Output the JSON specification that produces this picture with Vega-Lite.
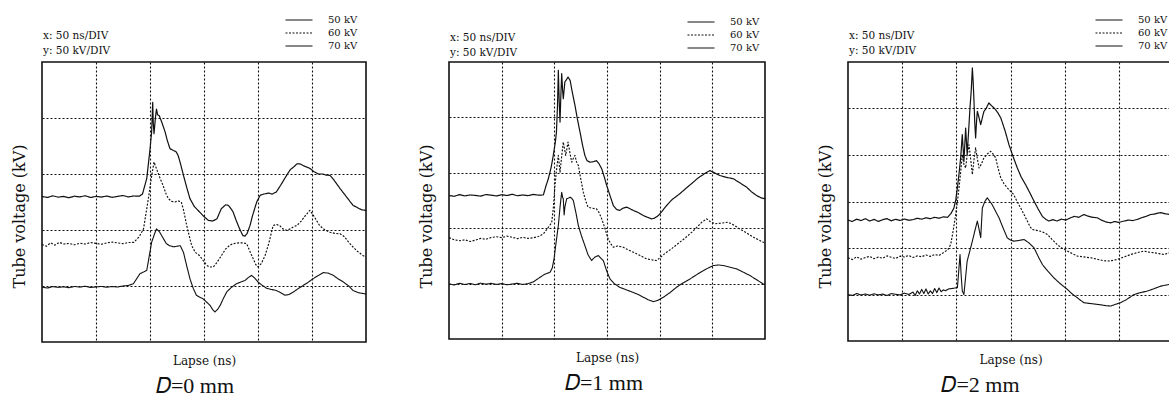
{
"$schema": "https://vega.github.io/schema/vega-lite/v6.json",
"padding": {"left": 10, "top": 12, "right": 0, "bottom": 0},
"background": "white",
"spacing": 49,
"resolve": {"scale": {"strokeDash": "independent", "strokeWidth": "independent"}},
"config": {
  "font": "DejaVu Serif",
  "view": {"stroke": "#111", "strokeWidth": 1.6},
  "axis": {"grid": true, "gridColor": "#111", "gridDash": [2, 2], "gridWidth": 1.1, "gridOpacity": 1, "domain": false, "ticks": false, "labels": false, "titleFont": "DejaVu Serif", "titleFontWeight": "normal", "titleColor": "#111"},
  "axisX": {"titleFontSize": 12, "titlePadding": 13},
  "axisY": {"titleFontSize": 16, "titlePadding": 15, "titleY": 154},
  "legend": {"orient": "none", "legendX": 1, "legendY": -49, "symbolType": "M-2.25,0H2.25", "symbolSize": 144, "symbolStrokeColor": "#111", "symbolFillColor": "transparent", "labelFont": "DejaVu Serif", "labelFontSize": 10, "labelColor": "#111", "rowPadding": 1, "labelOffset": 22, "padding": 0, "titleOrient": "left", "titleAnchor": "end", "titleBaseline": "middle", "titleFont": "DejaVu Serif", "titleFontWeight": "normal", "titleFontSize": 10.5, "titleColor": "#111", "titleLineHeight": 15, "titleLimit": 200},
  "title": {"font": "Liberation Serif", "fontWeight": "normal", "color": "#111", "orient": "bottom", "fontSize": 22, "offset": 10},
  "line": {"color": "#111"}
},
"datasets": {
"p0": [
{"s":"70 kV","t":0,"v":130},{"s":"70 kV","t":5,"v":129},{"s":"70 kV","t":10,"v":130.5},{"s":"70 kV","t":15,"v":129.3},{"s":"70 kV","t":20,"v":130},{"s":"70 kV","t":25,"v":128.8},{"s":"70 kV","t":30,"v":130.2},{"s":"70 kV","t":35,"v":129.5},{"s":"70 kV","t":40,"v":130.6},{"s":"70 kV","t":45,"v":129},{"s":"70 kV","t":50,"v":130},{"s":"70 kV","t":55,"v":129.4},{"s":"70 kV","t":60,"v":130.3},{"s":"70 kV","t":65,"v":129.2},{"s":"70 kV","t":70,"v":130},{"s":"70 kV","t":75,"v":130.8},{"s":"70 kV","t":80,"v":129.5},{"s":"70 kV","t":85,"v":130.4},{"s":"70 kV","t":90,"v":130.2},{"s":"70 kV","t":93,"v":132},{"s":"70 kV","t":97,"v":146},{"s":"70 kV","t":100,"v":172},{"s":"70 kV","t":101.5,"v":187.5},{"s":"70 kV","t":102,"v":200},{"s":"70 kV","t":102.5,"v":214},{"s":"70 kV","t":103,"v":196},{"s":"70 kV","t":103.7,"v":186},{"s":"70 kV","t":105,"v":200},{"s":"70 kV","t":106,"v":208},{"s":"70 kV","t":107,"v":203},{"s":"70 kV","t":108.6,"v":202},{"s":"70 kV","t":111,"v":196},{"s":"70 kV","t":114,"v":187.5},{"s":"70 kV","t":116,"v":180},{"s":"70 kV","t":118.5,"v":172.6},{"s":"70 kV","t":121.6,"v":171},{"s":"70 kV","t":124,"v":170},{"s":"70 kV","t":126,"v":166.7},{"s":"70 kV","t":128,"v":160},{"s":"70 kV","t":131,"v":148.8},{"s":"70 kV","t":134,"v":138},{"s":"70 kV","t":137,"v":128},{"s":"70 kV","t":141,"v":121},{"s":"70 kV","t":146,"v":116},{"s":"70 kV","t":150,"v":112},{"s":"70 kV","t":154,"v":108.6},{"s":"70 kV","t":158,"v":108},{"s":"70 kV","t":162,"v":110},{"s":"70 kV","t":166,"v":119},{"s":"70 kV","t":170,"v":122.5},{"s":"70 kV","t":172.5,"v":122},{"s":"70 kV","t":175,"v":119},{"s":"70 kV","t":177,"v":116},{"s":"70 kV","t":180,"v":108},{"s":"70 kV","t":183,"v":101},{"s":"70 kV","t":186,"v":95},{"s":"70 kV","t":188,"v":94.6},{"s":"70 kV","t":190,"v":97},{"s":"70 kV","t":192.6,"v":104},{"s":"70 kV","t":195,"v":113},{"s":"70 kV","t":198.8,"v":125},{"s":"70 kV","t":202,"v":131},{"s":"70 kV","t":205,"v":132},{"s":"70 kV","t":210,"v":133},{"s":"70 kV","t":213,"v":132},{"s":"70 kV","t":217,"v":134},{"s":"70 kV","t":221,"v":140},{"s":"70 kV","t":226.5,"v":148.8},{"s":"70 kV","t":230,"v":154},{"s":"70 kV","t":232.7,"v":156},{"s":"70 kV","t":236,"v":159},{"s":"70 kV","t":239,"v":159},{"s":"70 kV","t":243,"v":157},{"s":"70 kV","t":248,"v":155},{"s":"70 kV","t":252,"v":152},{"s":"70 kV","t":256,"v":150},{"s":"70 kV","t":260,"v":150},{"s":"70 kV","t":263,"v":149},{"s":"70 kV","t":266.7,"v":148.8},{"s":"70 kV","t":270,"v":145},{"s":"70 kV","t":273,"v":141},{"s":"70 kV","t":276,"v":137},{"s":"70 kV","t":280,"v":132},{"s":"70 kV","t":284,"v":127},{"s":"70 kV","t":288,"v":122},{"s":"70 kV","t":292,"v":120},{"s":"70 kV","t":296,"v":118},{"s":"70 kV","t":300,"v":117.5},
{"s":"60 kV","t":0,"v":87},{"s":"60 kV","t":4,"v":85.5},{"s":"60 kV","t":8,"v":88.5},{"s":"60 kV","t":12,"v":86.5},{"s":"60 kV","t":16,"v":89},{"s":"60 kV","t":20,"v":87.5},{"s":"60 kV","t":25,"v":88},{"s":"60 kV","t":30,"v":86.8},{"s":"60 kV","t":35,"v":88.2},{"s":"60 kV","t":40,"v":87.5},{"s":"60 kV","t":45,"v":88.8},{"s":"60 kV","t":50,"v":88},{"s":"60 kV","t":55,"v":87.3},{"s":"60 kV","t":60,"v":88.5},{"s":"60 kV","t":65,"v":89.2},{"s":"60 kV","t":70,"v":88.5},{"s":"60 kV","t":75,"v":87.8},{"s":"60 kV","t":80,"v":88.8},{"s":"60 kV","t":85,"v":89},{"s":"60 kV","t":90,"v":94},{"s":"60 kV","t":94,"v":101},{"s":"60 kV","t":98.5,"v":128},{"s":"60 kV","t":101,"v":145},{"s":"60 kV","t":103.7,"v":160.7},{"s":"60 kV","t":106,"v":154.8},{"s":"60 kV","t":109,"v":147},{"s":"60 kV","t":112,"v":140},{"s":"60 kV","t":115,"v":132},{"s":"60 kV","t":117,"v":128},{"s":"60 kV","t":120,"v":125.5},{"s":"60 kV","t":123,"v":125},{"s":"60 kV","t":126,"v":126},{"s":"60 kV","t":129,"v":125},{"s":"60 kV","t":131,"v":118},{"s":"60 kV","t":134,"v":104},{"s":"60 kV","t":136.5,"v":94},{"s":"60 kV","t":138.6,"v":86},{"s":"60 kV","t":142,"v":80},{"s":"60 kV","t":146,"v":77},{"s":"60 kV","t":149,"v":73},{"s":"60 kV","t":152.5,"v":68.5},{"s":"60 kV","t":155,"v":67},{"s":"60 kV","t":158.6,"v":67},{"s":"60 kV","t":162,"v":71},{"s":"60 kV","t":166,"v":77},{"s":"60 kV","t":170,"v":83},{"s":"60 kV","t":174,"v":86.5},{"s":"60 kV","t":177,"v":87.8},{"s":"60 kV","t":182,"v":88.5},{"s":"60 kV","t":186,"v":88.5},{"s":"60 kV","t":189.5,"v":87.8},{"s":"60 kV","t":192,"v":82},{"s":"60 kV","t":195.7,"v":74},{"s":"60 kV","t":198,"v":69},{"s":"60 kV","t":200,"v":67},{"s":"60 kV","t":203,"v":70},{"s":"60 kV","t":206.5,"v":77},{"s":"60 kV","t":210,"v":88},{"s":"60 kV","t":214,"v":104},{"s":"60 kV","t":217,"v":105},{"s":"60 kV","t":220,"v":104},{"s":"60 kV","t":223,"v":101},{"s":"60 kV","t":226.5,"v":99.7},{"s":"60 kV","t":230,"v":101},{"s":"60 kV","t":233,"v":103},{"s":"60 kV","t":236,"v":104},{"s":"60 kV","t":240,"v":108},{"s":"60 kV","t":244,"v":113},{"s":"60 kV","t":248,"v":117.6},{"s":"60 kV","t":252,"v":112},{"s":"60 kV","t":257,"v":104},{"s":"60 kV","t":262,"v":100},{"s":"60 kV","t":266.7,"v":98},{"s":"60 kV","t":271,"v":97},{"s":"60 kV","t":276,"v":96.7},{"s":"60 kV","t":280,"v":94},{"s":"60 kV","t":284,"v":89},{"s":"60 kV","t":288,"v":84.8},{"s":"60 kV","t":292,"v":81},{"s":"60 kV","t":297.5,"v":77},{"s":"60 kV","t":300,"v":76},
{"s":"50 kV","t":0,"v":49},{"s":"50 kV","t":5,"v":48.2},{"s":"50 kV","t":10,"v":49.5},{"s":"50 kV","t":15,"v":48.8},{"s":"50 kV","t":20,"v":49.3},{"s":"50 kV","t":25,"v":48.5},{"s":"50 kV","t":30,"v":49.6},{"s":"50 kV","t":35,"v":49},{"s":"50 kV","t":40,"v":49.8},{"s":"50 kV","t":45,"v":48.7},{"s":"50 kV","t":50,"v":49.2},{"s":"50 kV","t":55,"v":49.6},{"s":"50 kV","t":60,"v":48.9},{"s":"50 kV","t":65,"v":49.5},{"s":"50 kV","t":70,"v":49.1},{"s":"50 kV","t":75,"v":50},{"s":"50 kV","t":80,"v":50.5},{"s":"50 kV","t":84.6,"v":52},{"s":"50 kV","t":88,"v":57},{"s":"50 kV","t":90.7,"v":61},{"s":"50 kV","t":94,"v":62.5},{"s":"50 kV","t":97,"v":64},{"s":"50 kV","t":99,"v":75},{"s":"50 kV","t":101.5,"v":89},{"s":"50 kV","t":104,"v":96},{"s":"50 kV","t":106,"v":101},{"s":"50 kV","t":109,"v":98},{"s":"50 kV","t":112,"v":93},{"s":"50 kV","t":115,"v":88},{"s":"50 kV","t":118,"v":86},{"s":"50 kV","t":121.6,"v":85},{"s":"50 kV","t":125,"v":85.5},{"s":"50 kV","t":128,"v":86},{"s":"50 kV","t":131,"v":80},{"s":"50 kV","t":134,"v":68},{"s":"50 kV","t":137,"v":56.5},{"s":"50 kV","t":140,"v":48},{"s":"50 kV","t":143,"v":41.7},{"s":"50 kV","t":146,"v":40},{"s":"50 kV","t":149,"v":38.7},{"s":"50 kV","t":152,"v":36},{"s":"50 kV","t":155.6,"v":32.7},{"s":"50 kV","t":158,"v":29},{"s":"50 kV","t":160,"v":26.8},{"s":"50 kV","t":162.5,"v":29},{"s":"50 kV","t":165,"v":32.7},{"s":"50 kV","t":168,"v":39},{"s":"50 kV","t":171,"v":44.6},{"s":"50 kV","t":175,"v":48.5},{"s":"50 kV","t":180,"v":52},{"s":"50 kV","t":184,"v":53.5},{"s":"50 kV","t":188,"v":55},{"s":"50 kV","t":191,"v":57.5},{"s":"50 kV","t":194,"v":59.5},{"s":"50 kV","t":197,"v":57},{"s":"50 kV","t":200,"v":53.6},{"s":"50 kV","t":204,"v":50.5},{"s":"50 kV","t":208,"v":48},{"s":"50 kV","t":212,"v":47},{"s":"50 kV","t":217,"v":46},{"s":"50 kV","t":221,"v":44},{"s":"50 kV","t":225,"v":41.7},{"s":"50 kV","t":229,"v":42.5},{"s":"50 kV","t":232.7,"v":44.6},{"s":"50 kV","t":237,"v":47.5},{"s":"50 kV","t":242,"v":50.6},{"s":"50 kV","t":246,"v":53},{"s":"50 kV","t":251,"v":56.5},{"s":"50 kV","t":256,"v":59.5},{"s":"50 kV","t":260.5,"v":62},{"s":"50 kV","t":265,"v":61.5},{"s":"50 kV","t":269.8,"v":59.5},{"s":"50 kV","t":274,"v":56.5},{"s":"50 kV","t":279,"v":53.6},{"s":"50 kV","t":284,"v":50},{"s":"50 kV","t":288,"v":46},{"s":"50 kV","t":293,"v":44},{"s":"50 kV","t":299,"v":43},{"s":"50 kV","t":300,"v":43}
],
"p1": [
{"s":"70 kV","t":0,"v":129.5},{"s":"70 kV","t":5,"v":128.8},{"s":"70 kV","t":10,"v":130.3},{"s":"70 kV","t":15,"v":129.2},{"s":"70 kV","t":20,"v":130},{"s":"70 kV","t":25,"v":129.6},{"s":"70 kV","t":30,"v":128.9},{"s":"70 kV","t":35,"v":130.4},{"s":"70 kV","t":40,"v":129.8},{"s":"70 kV","t":45,"v":129.1},{"s":"70 kV","t":50,"v":130.2},{"s":"70 kV","t":55,"v":129.5},{"s":"70 kV","t":60,"v":130.6},{"s":"70 kV","t":65,"v":129.3},{"s":"70 kV","t":70,"v":130},{"s":"70 kV","t":75,"v":129.4},{"s":"70 kV","t":80,"v":130.5},{"s":"70 kV","t":85,"v":129.8},{"s":"70 kV","t":89.6,"v":130},{"s":"70 kV","t":92,"v":138},{"s":"70 kV","t":94.3,"v":144.6},{"s":"70 kV","t":97,"v":155},{"s":"70 kV","t":99,"v":165.7},{"s":"70 kV","t":101,"v":178},{"s":"70 kV","t":102,"v":186.7},{"s":"70 kV","t":103,"v":210},{"s":"70 kV","t":103.8,"v":242.5},{"s":"70 kV","t":104.6,"v":215},{"s":"70 kV","t":105.4,"v":195.8},{"s":"70 kV","t":106.2,"v":220},{"s":"70 kV","t":107,"v":239.5},{"s":"70 kV","t":107.8,"v":225},{"s":"70 kV","t":108.5,"v":216.9},{"s":"70 kV","t":109.3,"v":225},{"s":"70 kV","t":110,"v":232},{"s":"70 kV","t":111.5,"v":234},{"s":"70 kV","t":113,"v":236.4},{"s":"70 kV","t":115,"v":233.4},{"s":"70 kV","t":117,"v":223},{"s":"70 kV","t":119.6,"v":210.8},{"s":"70 kV","t":122,"v":198},{"s":"70 kV","t":124.4,"v":186.7},{"s":"70 kV","t":127,"v":174},{"s":"70 kV","t":129,"v":165.7},{"s":"70 kV","t":131,"v":161},{"s":"70 kV","t":133.9,"v":159.6},{"s":"70 kV","t":137,"v":160},{"s":"70 kV","t":140,"v":161},{"s":"70 kV","t":142.5,"v":158},{"s":"70 kV","t":145,"v":153.6},{"s":"70 kV","t":147.5,"v":146},{"s":"70 kV","t":149.7,"v":138.6},{"s":"70 kV","t":153,"v":129},{"s":"70 kV","t":156,"v":120.5},{"s":"70 kV","t":159,"v":117},{"s":"70 kV","t":162,"v":116},{"s":"70 kV","t":165,"v":118},{"s":"70 kV","t":168.7,"v":119},{"s":"70 kV","t":172,"v":117.5},{"s":"70 kV","t":175,"v":116},{"s":"70 kV","t":180,"v":114},{"s":"70 kV","t":184.5,"v":111.4},{"s":"70 kV","t":188,"v":110},{"s":"70 kV","t":192.4,"v":108.4},{"s":"70 kV","t":195,"v":109},{"s":"70 kV","t":198.7,"v":111.4},{"s":"70 kV","t":202,"v":115},{"s":"70 kV","t":206.6,"v":120.5},{"s":"70 kV","t":212,"v":126},{"s":"70 kV","t":219,"v":131},{"s":"70 kV","t":225,"v":136},{"s":"70 kV","t":232,"v":141.6},{"s":"70 kV","t":236,"v":145},{"s":"70 kV","t":240,"v":147.6},{"s":"70 kV","t":244,"v":150},{"s":"70 kV","t":247.8,"v":152},{"s":"70 kV","t":252,"v":150},{"s":"70 kV","t":257,"v":147.6},{"s":"70 kV","t":263,"v":146},{"s":"70 kV","t":270,"v":144.6},{"s":"70 kV","t":276,"v":141},{"s":"70 kV","t":282.6,"v":137},{"s":"70 kV","t":287,"v":133},{"s":"70 kV","t":292,"v":129.5},{"s":"70 kV","t":296,"v":127.5},{"s":"70 kV","t":300,"v":126.5},
{"s":"60 kV","t":0,"v":91.5},{"s":"60 kV","t":5,"v":89.5},{"s":"60 kV","t":10,"v":88.7},{"s":"60 kV","t":15,"v":89.5},{"s":"60 kV","t":20,"v":88},{"s":"60 kV","t":25,"v":89.2},{"s":"60 kV","t":30,"v":90.8},{"s":"60 kV","t":35,"v":90},{"s":"60 kV","t":40,"v":91.6},{"s":"60 kV","t":45,"v":92.3},{"s":"60 kV","t":50,"v":91.5},{"s":"60 kV","t":55,"v":92.8},{"s":"60 kV","t":60,"v":91.8},{"s":"60 kV","t":65,"v":90.6},{"s":"60 kV","t":70,"v":91.7},{"s":"60 kV","t":75,"v":90.8},{"s":"60 kV","t":80,"v":91.3},{"s":"60 kV","t":85,"v":92.5},{"s":"60 kV","t":89.6,"v":94.9},{"s":"60 kV","t":93,"v":99},{"s":"60 kV","t":97.5,"v":105},{"s":"60 kV","t":99,"v":118},{"s":"60 kV","t":100.6,"v":138.6},{"s":"60 kV","t":102,"v":152},{"s":"60 kV","t":103.8,"v":165.7},{"s":"60 kV","t":105.4,"v":150.6},{"s":"60 kV","t":107,"v":165},{"s":"60 kV","t":108.5,"v":177.7},{"s":"60 kV","t":110.8,"v":165.7},{"s":"60 kV","t":113,"v":177.7},{"s":"60 kV","t":114.8,"v":168},{"s":"60 kV","t":116.5,"v":159.6},{"s":"60 kV","t":118,"v":163},{"s":"60 kV","t":119.6,"v":165.7},{"s":"60 kV","t":121,"v":160},{"s":"60 kV","t":122.8,"v":156.6},{"s":"60 kV","t":125,"v":145},{"s":"60 kV","t":127.5,"v":132.5},{"s":"60 kV","t":130,"v":124},{"s":"60 kV","t":132,"v":119},{"s":"60 kV","t":136,"v":118},{"s":"60 kV","t":140,"v":117.5},{"s":"60 kV","t":142.5,"v":114},{"s":"60 kV","t":145,"v":108.4},{"s":"60 kV","t":148,"v":100},{"s":"60 kV","t":151,"v":90.4},{"s":"60 kV","t":153.5,"v":86},{"s":"60 kV","t":156,"v":82.8},{"s":"60 kV","t":160,"v":84},{"s":"60 kV","t":165.5,"v":82.8},{"s":"60 kV","t":170,"v":80.5},{"s":"60 kV","t":175,"v":78.3},{"s":"60 kV","t":181,"v":75.5},{"s":"60 kV","t":187.7,"v":72.3},{"s":"60 kV","t":192,"v":71.5},{"s":"60 kV","t":197,"v":70.8},{"s":"60 kV","t":201,"v":74},{"s":"60 kV","t":206.6,"v":78.3},{"s":"60 kV","t":212,"v":82},{"s":"60 kV","t":219,"v":87.3},{"s":"60 kV","t":224,"v":91},{"s":"60 kV","t":228.8,"v":94.9},{"s":"60 kV","t":234,"v":99.5},{"s":"60 kV","t":240,"v":105.4},{"s":"60 kV","t":244.6,"v":108.4},{"s":"60 kV","t":248,"v":106},{"s":"60 kV","t":252.5,"v":104},{"s":"60 kV","t":258,"v":104.5},{"s":"60 kV","t":265,"v":105.4},{"s":"60 kV","t":270,"v":103},{"s":"60 kV","t":276,"v":99.4},{"s":"60 kV","t":282,"v":96},{"s":"60 kV","t":289,"v":91.9},{"s":"60 kV","t":294,"v":89.5},{"s":"60 kV","t":298.4,"v":87.3},{"s":"60 kV","t":300,"v":87},
{"s":"50 kV","t":0,"v":49.7},{"s":"50 kV","t":5,"v":48.8},{"s":"50 kV","t":10,"v":50.3},{"s":"50 kV","t":15,"v":49.2},{"s":"50 kV","t":20,"v":50.1},{"s":"50 kV","t":25,"v":49},{"s":"50 kV","t":30,"v":50.4},{"s":"50 kV","t":35,"v":49.5},{"s":"50 kV","t":40,"v":50.2},{"s":"50 kV","t":45,"v":49.3},{"s":"50 kV","t":50,"v":50},{"s":"50 kV","t":55,"v":48.9},{"s":"50 kV","t":60,"v":49.6},{"s":"50 kV","t":65,"v":50.3},{"s":"50 kV","t":70,"v":49.2},{"s":"50 kV","t":75,"v":50},{"s":"50 kV","t":80,"v":51.5},{"s":"50 kV","t":86.4,"v":55.7},{"s":"50 kV","t":91,"v":58.5},{"s":"50 kV","t":95.9,"v":60.2},{"s":"50 kV","t":98,"v":64},{"s":"50 kV","t":99.7,"v":72.3},{"s":"50 kV","t":101.8,"v":88},{"s":"50 kV","t":103.8,"v":102.4},{"s":"50 kV","t":105.5,"v":120},{"s":"50 kV","t":107,"v":132.5},{"s":"50 kV","t":107.8,"v":128},{"s":"50 kV","t":108.5,"v":126.5},{"s":"50 kV","t":109.3,"v":112},{"s":"50 kV","t":110,"v":119},{"s":"50 kV","t":111.7,"v":126.5},{"s":"50 kV","t":113,"v":127},{"s":"50 kV","t":115,"v":128},{"s":"50 kV","t":116.5,"v":127},{"s":"50 kV","t":118,"v":125},{"s":"50 kV","t":120.5,"v":114},{"s":"50 kV","t":122.8,"v":102.4},{"s":"50 kV","t":125.8,"v":93},{"s":"50 kV","t":129,"v":84.3},{"s":"50 kV","t":132,"v":76},{"s":"50 kV","t":135.4,"v":70.8},{"s":"50 kV","t":138.5,"v":74},{"s":"50 kV","t":141.8,"v":75.3},{"s":"50 kV","t":144,"v":73},{"s":"50 kV","t":146.5,"v":70.8},{"s":"50 kV","t":149.5,"v":62},{"s":"50 kV","t":152.8,"v":54.2},{"s":"50 kV","t":157,"v":50},{"s":"50 kV","t":162,"v":46.7},{"s":"50 kV","t":168,"v":44.5},{"s":"50 kV","t":175,"v":42},{"s":"50 kV","t":180,"v":40},{"s":"50 kV","t":184.5,"v":37.7},{"s":"50 kV","t":189,"v":35.5},{"s":"50 kV","t":194,"v":33.7},{"s":"50 kV","t":198.5,"v":35},{"s":"50 kV","t":203.5,"v":37.7},{"s":"50 kV","t":210,"v":42},{"s":"50 kV","t":216,"v":46.7},{"s":"50 kV","t":222,"v":50.5},{"s":"50 kV","t":228.8,"v":54.2},{"s":"50 kV","t":235,"v":58},{"s":"50 kV","t":241.5,"v":61.7},{"s":"50 kV","t":246,"v":64},{"s":"50 kV","t":251,"v":66.3},{"s":"50 kV","t":256,"v":66.8},{"s":"50 kV","t":260.4,"v":66.3},{"s":"50 kV","t":266,"v":65},{"s":"50 kV","t":273,"v":63.3},{"s":"50 kV","t":279,"v":60.5},{"s":"50 kV","t":285.8,"v":57.2},{"s":"50 kV","t":292,"v":53.5},{"s":"50 kV","t":298.4,"v":49.7},{"s":"50 kV","t":300,"v":49}
],
"p2": [
{"s":"70 kV","t":0,"v":130},{"s":"70 kV","t":4,"v":128.5},{"s":"70 kV","t":8,"v":131},{"s":"70 kV","t":12,"v":129.5},{"s":"70 kV","t":16,"v":131.5},{"s":"70 kV","t":20,"v":129},{"s":"70 kV","t":24,"v":130.8},{"s":"70 kV","t":28,"v":128.6},{"s":"70 kV","t":32,"v":130.4},{"s":"70 kV","t":36,"v":131.6},{"s":"70 kV","t":40,"v":129.2},{"s":"70 kV","t":44,"v":130.9},{"s":"70 kV","t":48,"v":129.6},{"s":"70 kV","t":52,"v":131.2},{"s":"70 kV","t":56,"v":129.8},{"s":"70 kV","t":60,"v":130.5},{"s":"70 kV","t":64,"v":132},{"s":"70 kV","t":68,"v":131},{"s":"70 kV","t":72,"v":132.5},{"s":"70 kV","t":76,"v":131.5},{"s":"70 kV","t":80,"v":133},{"s":"70 kV","t":84,"v":132},{"s":"70 kV","t":88,"v":133.5},{"s":"70 kV","t":92,"v":133},{"s":"70 kV","t":95,"v":137},{"s":"70 kV","t":97.8,"v":143},{"s":"70 kV","t":99.5,"v":152},{"s":"70 kV","t":101,"v":164.7},{"s":"70 kV","t":102.5,"v":180},{"s":"70 kV","t":104,"v":197},{"s":"70 kV","t":105.5,"v":222},{"s":"70 kV","t":107,"v":193},{"s":"70 kV","t":108.6,"v":229},{"s":"70 kV","t":110,"v":200.5},{"s":"70 kV","t":111.3,"v":225},{"s":"70 kV","t":112.6,"v":250.6},{"s":"70 kV","t":113.8,"v":270},{"s":"70 kV","t":114.8,"v":293.6},{"s":"70 kV","t":115.5,"v":280},{"s":"70 kV","t":116.3,"v":257.8},{"s":"70 kV","t":117,"v":235},{"s":"70 kV","t":117.8,"v":218.4},{"s":"70 kV","t":118.6,"v":235},{"s":"70 kV","t":119.4,"v":247},{"s":"70 kV","t":121,"v":240},{"s":"70 kV","t":122.5,"v":232.7},{"s":"70 kV","t":124,"v":240},{"s":"70 kV","t":125.5,"v":247},{"s":"70 kV","t":127.5,"v":250},{"s":"70 kV","t":130,"v":256},{"s":"70 kV","t":132.5,"v":253},{"s":"70 kV","t":134.8,"v":250.6},{"s":"70 kV","t":138,"v":246},{"s":"70 kV","t":141,"v":240},{"s":"70 kV","t":145,"v":226},{"s":"70 kV","t":148.6,"v":211},{"s":"70 kV","t":152.5,"v":198},{"s":"70 kV","t":156.3,"v":186},{"s":"70 kV","t":160,"v":176},{"s":"70 kV","t":164,"v":168},{"s":"70 kV","t":168,"v":159},{"s":"70 kV","t":171.7,"v":150.4},{"s":"70 kV","t":175.5,"v":142},{"s":"70 kV","t":179.4,"v":134},{"s":"70 kV","t":182.5,"v":131},{"s":"70 kV","t":185.5,"v":129},{"s":"70 kV","t":189,"v":130.5},{"s":"70 kV","t":193,"v":129},{"s":"70 kV","t":197,"v":131},{"s":"70 kV","t":201,"v":130},{"s":"70 kV","t":205.5,"v":132.5},{"s":"70 kV","t":209,"v":134},{"s":"70 kV","t":213,"v":133},{"s":"70 kV","t":217.8,"v":136},{"s":"70 kV","t":221,"v":134.5},{"s":"70 kV","t":226,"v":133},{"s":"70 kV","t":230,"v":132.5},{"s":"70 kV","t":234,"v":130},{"s":"70 kV","t":238,"v":128},{"s":"70 kV","t":242.5,"v":127},{"s":"70 kV","t":246,"v":128.5},{"s":"70 kV","t":250,"v":127.5},{"s":"70 kV","t":254.8,"v":129},{"s":"70 kV","t":259,"v":130},{"s":"70 kV","t":263,"v":129.5},{"s":"70 kV","t":267,"v":130.7},{"s":"70 kV","t":271,"v":132.5},{"s":"70 kV","t":275,"v":134},{"s":"70 kV","t":279.4,"v":136},{"s":"70 kV","t":283,"v":136.5},{"s":"70 kV","t":286,"v":137.5},{"s":"70 kV","t":288.6,"v":138},{"s":"70 kV","t":292,"v":137},{"s":"70 kV","t":297,"v":136},{"s":"70 kV","t":300,"v":136.5},
{"s":"60 kV","t":0,"v":89.5},{"s":"60 kV","t":4,"v":87.5},{"s":"60 kV","t":8,"v":90.5},{"s":"60 kV","t":12,"v":88},{"s":"60 kV","t":16,"v":89.8},{"s":"60 kV","t":20,"v":91},{"s":"60 kV","t":24,"v":88.5},{"s":"60 kV","t":28,"v":90.2},{"s":"60 kV","t":32,"v":89},{"s":"60 kV","t":36,"v":91.5},{"s":"60 kV","t":40,"v":90},{"s":"60 kV","t":44,"v":88.8},{"s":"60 kV","t":48,"v":91.2},{"s":"60 kV","t":52,"v":90.3},{"s":"60 kV","t":56,"v":92},{"s":"60 kV","t":60,"v":89.8},{"s":"60 kV","t":64,"v":91.5},{"s":"60 kV","t":68,"v":90.6},{"s":"60 kV","t":72,"v":92.5},{"s":"60 kV","t":76,"v":91},{"s":"60 kV","t":80,"v":93},{"s":"60 kV","t":84,"v":92},{"s":"60 kV","t":88,"v":95},{"s":"60 kV","t":92,"v":98},{"s":"60 kV","t":94.8,"v":103.8},{"s":"60 kV","t":97,"v":118},{"s":"60 kV","t":99.4,"v":136},{"s":"60 kV","t":101,"v":150},{"s":"60 kV","t":102.5,"v":164.7},{"s":"60 kV","t":104,"v":182},{"s":"60 kV","t":105.5,"v":200.5},{"s":"60 kV","t":107,"v":190},{"s":"60 kV","t":108.6,"v":186},{"s":"60 kV","t":110,"v":200},{"s":"60 kV","t":111.7,"v":211},{"s":"60 kV","t":113.3,"v":195},{"s":"60 kV","t":114.8,"v":179},{"s":"60 kV","t":116.3,"v":195},{"s":"60 kV","t":117.8,"v":207.6},{"s":"60 kV","t":119.4,"v":196},{"s":"60 kV","t":121,"v":186},{"s":"60 kV","t":123,"v":190},{"s":"60 kV","t":125.5,"v":197},{"s":"60 kV","t":128.5,"v":201},{"s":"60 kV","t":131.7,"v":204},{"s":"60 kV","t":134,"v":201},{"s":"60 kV","t":136.3,"v":197},{"s":"60 kV","t":138.5,"v":186},{"s":"60 kV","t":141,"v":175.4},{"s":"60 kV","t":144,"v":169},{"s":"60 kV","t":147,"v":164.7},{"s":"60 kV","t":150,"v":161},{"s":"60 kV","t":153,"v":157.5},{"s":"60 kV","t":156,"v":150},{"s":"60 kV","t":159.4,"v":143},{"s":"60 kV","t":162.5,"v":136},{"s":"60 kV","t":165.5,"v":129},{"s":"60 kV","t":168,"v":123},{"s":"60 kV","t":170,"v":120},{"s":"60 kV","t":174,"v":119},{"s":"60 kV","t":177.8,"v":118},{"s":"60 kV","t":181,"v":116.5},{"s":"60 kV","t":184,"v":114.6},{"s":"60 kV","t":188.5,"v":109},{"s":"60 kV","t":193,"v":103.8},{"s":"60 kV","t":198,"v":99.5},{"s":"60 kV","t":202.5,"v":96.7},{"s":"60 kV","t":207,"v":94},{"s":"60 kV","t":211.7,"v":91.3},{"s":"60 kV","t":217,"v":90.5},{"s":"60 kV","t":224,"v":89.5},{"s":"60 kV","t":230,"v":88},{"s":"60 kV","t":235,"v":86.5},{"s":"60 kV","t":239.4,"v":86},{"s":"60 kV","t":244,"v":86.5},{"s":"60 kV","t":248.6,"v":87.7},{"s":"60 kV","t":254,"v":90},{"s":"60 kV","t":261,"v":93},{"s":"60 kV","t":267,"v":95},{"s":"60 kV","t":273,"v":96.7},{"s":"60 kV","t":278,"v":95.5},{"s":"60 kV","t":282.5,"v":94.9},{"s":"60 kV","t":287,"v":94},{"s":"60 kV","t":291.7,"v":93},{"s":"60 kV","t":297,"v":94.9},{"s":"60 kV","t":300,"v":95},
{"s":"50 kV","t":0,"v":50},{"s":"50 kV","t":4,"v":49},{"s":"50 kV","t":8,"v":51},{"s":"50 kV","t":12,"v":49.5},{"s":"50 kV","t":16,"v":50.5},{"s":"50 kV","t":20,"v":49.2},{"s":"50 kV","t":24,"v":50.8},{"s":"50 kV","t":28,"v":49.6},{"s":"50 kV","t":32,"v":50.4},{"s":"50 kV","t":36,"v":49},{"s":"50 kV","t":40,"v":51},{"s":"50 kV","t":44,"v":50.2},{"s":"50 kV","t":48,"v":49.5},{"s":"50 kV","t":52,"v":51.5},{"s":"50 kV","t":56,"v":50},{"s":"50 kV","t":60,"v":52.5},{"s":"50 kV","t":62,"v":49},{"s":"50 kV","t":64,"v":54},{"s":"50 kV","t":66,"v":50.5},{"s":"50 kV","t":68,"v":55.5},{"s":"50 kV","t":70,"v":51},{"s":"50 kV","t":72,"v":56},{"s":"50 kV","t":74,"v":50.5},{"s":"50 kV","t":76,"v":54},{"s":"50 kV","t":78,"v":51},{"s":"50 kV","t":80,"v":56.5},{"s":"50 kV","t":82,"v":52},{"s":"50 kV","t":84,"v":57},{"s":"50 kV","t":86,"v":53},{"s":"50 kV","t":88,"v":55},{"s":"50 kV","t":90,"v":54},{"s":"50 kV","t":93,"v":56},{"s":"50 kV","t":96,"v":56.5},{"s":"50 kV","t":99,"v":57},{"s":"50 kV","t":101,"v":57.3},{"s":"50 kV","t":102.2,"v":75},{"s":"50 kV","t":103.4,"v":93},{"s":"50 kV","t":104.5,"v":70},{"s":"50 kV","t":105.5,"v":53.7},{"s":"50 kV","t":107,"v":50},{"s":"50 kV","t":108.5,"v":68},{"s":"50 kV","t":110,"v":86},{"s":"50 kV","t":112.5,"v":97},{"s":"50 kV","t":114.8,"v":107.4},{"s":"50 kV","t":117,"v":118},{"s":"50 kV","t":119.4,"v":129},{"s":"50 kV","t":121,"v":120},{"s":"50 kV","t":122.5,"v":111},{"s":"50 kV","t":123.3,"v":128},{"s":"50 kV","t":124,"v":143},{"s":"50 kV","t":126.3,"v":150},{"s":"50 kV","t":128.6,"v":154},{"s":"50 kV","t":131,"v":150},{"s":"50 kV","t":133,"v":146.8},{"s":"50 kV","t":136,"v":140},{"s":"50 kV","t":139.4,"v":132.5},{"s":"50 kV","t":143,"v":122},{"s":"50 kV","t":147,"v":111},{"s":"50 kV","t":150,"v":108.5},{"s":"50 kV","t":153,"v":107.4},{"s":"50 kV","t":157.5,"v":108},{"s":"50 kV","t":162.5,"v":109.2},{"s":"50 kV","t":167,"v":105.5},{"s":"50 kV","t":171.7,"v":100.3},{"s":"50 kV","t":175.5,"v":91},{"s":"50 kV","t":179.4,"v":82.3},{"s":"50 kV","t":184.5,"v":75},{"s":"50 kV","t":190,"v":68},{"s":"50 kV","t":196,"v":61.5},{"s":"50 kV","t":202.5,"v":55.5},{"s":"50 kV","t":207,"v":50.5},{"s":"50 kV","t":211.7,"v":46.5},{"s":"50 kV","t":215,"v":43.5},{"s":"50 kV","t":217.8,"v":41.2},{"s":"50 kV","t":222,"v":40.5},{"s":"50 kV","t":226,"v":40},{"s":"50 kV","t":230,"v":39.4},{"s":"50 kV","t":234,"v":38.8},{"s":"50 kV","t":238,"v":38},{"s":"50 kV","t":242.5,"v":37.6},{"s":"50 kV","t":247,"v":39.5},{"s":"50 kV","t":251.7,"v":41.2},{"s":"50 kV","t":257,"v":44.5},{"s":"50 kV","t":264,"v":50},{"s":"50 kV","t":270,"v":52},{"s":"50 kV","t":276.3,"v":53.7},{"s":"50 kV","t":282,"v":56},{"s":"50 kV","t":288.6,"v":59},{"s":"50 kV","t":293,"v":60},{"s":"50 kV","t":297,"v":60.9},{"s":"50 kV","t":300,"v":62}
]
},
"hconcat": [
{
  "width": 324, "height": 280,
  "data": {"name": "p0"},
  "title": {"text": "𝐷=0 mm", "dx": -9},
  "mark": {"type": "line", "strokeJoin": "round"},
  "encoding": {
   "x": {"field": "t", "type": "quantitative", "scale": {"domain": [0, 300], "nice": false, "zero": false}, "axis": {"values": [50, 100, 150, 200, 250], "title": "Lapse (ns)"}},
   "y": {"field": "v", "type": "quantitative", "scale": {"domain": [0, 250], "nice": false}, "axis": {"values": [50, 100, 150, 200], "title": "Tube voltage (kV)"}},
   "strokeDash": {"field": "s", "type": "nominal", "scale": {"domain": ["50 kV", "60 kV", "70 kV"], "range": [[1, 0], [2, 1.5], [1, 0]]}, "legend": {"title": ["x: 50 ns/DIV", "y: 50 kV/DIV"], "titlePadding": 181, "titleAnchor": "end", "titleBaseline": "middle", "encode": {"symbols": {"update": {"strokeWidth": {"signal": "datum.value === '70 kV' ? 2 : 1"}}}}}},
   "strokeWidth": {"field": "s", "type": "nominal", "scale": {"domain": ["50 kV", "60 kV", "70 kV"], "range": [1.1, 1.2, 2.1]}, "legend": {"title": ["x: 50 ns/DIV", "y: 50 kV/DIV"], "titlePadding": 181, "titleAnchor": "end", "titleBaseline": "middle", "encode": {"symbols": {"update": {"strokeWidth": {"signal": "datum.value === '70 kV' ? 2 : 1"}}}}}}
  }
},
{
  "width": 316, "height": 277,
  "data": {"name": "p1"},
  "title": {"text": "𝐷=1 mm", "dx": -3},
  "mark": {"type": "line", "strokeJoin": "round"},
  "encoding": {
   "x": {"field": "t", "type": "quantitative", "scale": {"domain": [0, 300], "nice": false, "zero": false}, "axis": {"values": [50, 100, 150, 200, 250], "title": "Lapse (ns)"}},
   "y": {"field": "v", "type": "quantitative", "scale": {"domain": [0, 250], "nice": false}, "axis": {"values": [50, 100, 150, 200], "title": "Tube voltage (kV)"}},
   "strokeDash": {"field": "s", "type": "nominal", "scale": {"domain": ["50 kV", "60 kV", "70 kV"], "range": [[1, 0], [2, 1.5], [1, 0]]}, "legend": {"title": ["x: 50 ns/DIV", "y: 50 kV/DIV"], "titlePadding": 176, "legendY": -47, "titleAnchor": "end", "titleBaseline": "middle", "encode": {"symbols": {"update": {"strokeWidth": {"signal": "datum.value === '70 kV' ? 2 : 1"}}}}}},
   "strokeWidth": {"field": "s", "type": "nominal", "scale": {"domain": ["50 kV", "60 kV", "70 kV"], "range": [1.1, 1.2, 2.1]}, "legend": {"title": ["x: 50 ns/DIV", "y: 50 kV/DIV"], "titlePadding": 176, "legendY": -47, "titleAnchor": "end", "titleBaseline": "middle", "encode": {"symbols": {"update": {"strokeWidth": {"signal": "datum.value === '70 kV' ? 2 : 1"}}}}}}
  }
},
{
  "width": 325, "height": 279,
  "data": {"name": "p2"},
  "title": {"text": "𝐷=2 mm", "dx": -30},
  "mark": {"type": "line", "strokeJoin": "round"},
  "encoding": {
   "x": {"field": "t", "type": "quantitative", "scale": {"domain": [0, 300], "nice": false, "zero": false}, "axis": {"values": [50, 100, 150, 200, 250], "title": "Lapse (ns)"}},
   "y": {"field": "v", "type": "quantitative", "scale": {"domain": [0, 300], "nice": false}, "axis": {"values": [50, 100, 150, 200, 250], "title": "Tube voltage (kV)"}},
   "strokeDash": {"field": "s", "type": "nominal", "scale": {"domain": ["50 kV", "60 kV", "70 kV"], "range": [[1, 0], [2, 1.5], [1, 0]]}, "legend": {"title": ["x: 50 ns/DIV", "y: 50 kV/DIV"], "titlePadding": 185, "titleAnchor": "end", "titleBaseline": "middle", "encode": {"symbols": {"update": {"strokeWidth": {"signal": "datum.value === '70 kV' ? 2 : 1"}}}}}},
   "strokeWidth": {"field": "s", "type": "nominal", "scale": {"domain": ["50 kV", "60 kV", "70 kV"], "range": [1.1, 1.2, 2.1]}, "legend": {"title": ["x: 50 ns/DIV", "y: 50 kV/DIV"], "titlePadding": 185, "titleAnchor": "end", "titleBaseline": "middle", "encode": {"symbols": {"update": {"strokeWidth": {"signal": "datum.value === '70 kV' ? 2 : 1"}}}}}}
  }
}
]
}
